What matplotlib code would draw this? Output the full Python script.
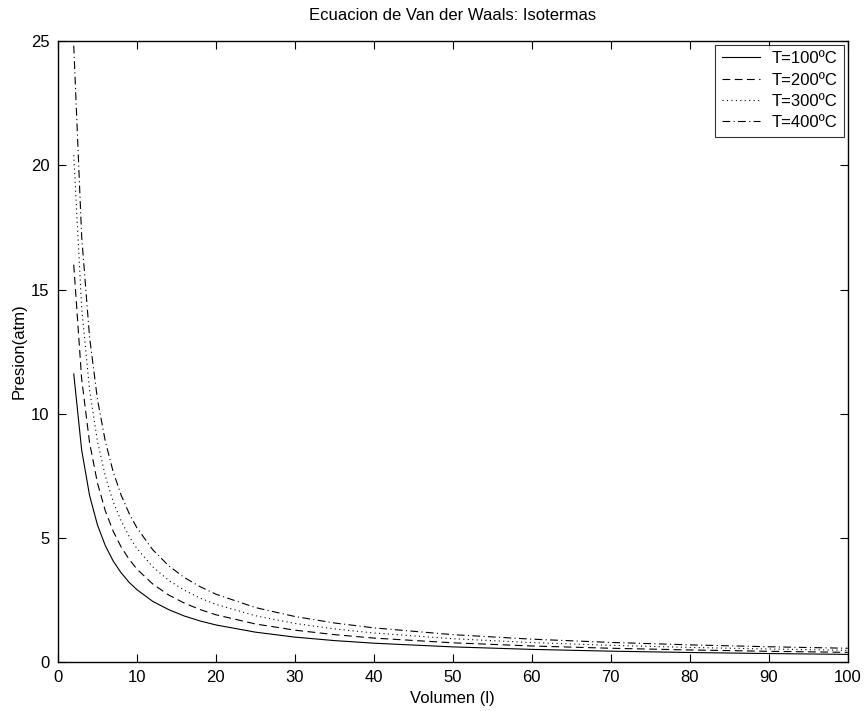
import matplotlib
matplotlib.use("Agg")
import matplotlib.pyplot as plt

plt.rcParams['font.family'] = ['Liberation Sans', 'DejaVu Sans']

volumen = [2, 3, 4, 5, 6, 7, 8, 9, 10, 12, 14, 16, 18, 20, 25, 30, 35, 40,
           50, 60, 70, 80, 90, 100]
p_100 = [11.60, 8.54, 6.71, 5.52, 4.68, 4.06, 3.59, 3.21, 2.91, 2.44, 2.11,
         1.85, 1.65, 1.49, 1.20, 1.00, 0.86, 0.755, 0.606, 0.506, 0.434,
         0.380, 0.338, 0.304]
p_200 = [16.00, 11.40, 8.84, 7.21, 6.08, 5.26, 4.63, 4.14, 3.74, 3.14, 2.70,
         2.37, 2.11, 1.90, 1.53, 1.28, 1.10, 0.961, 0.770, 0.643, 0.551,
         0.483, 0.429, 0.386]
p_300 = [20.41, 14.27, 10.96, 8.89, 7.48, 6.45, 5.68, 5.06, 4.57, 3.83, 3.29,
         2.89, 2.57, 2.32, 1.86, 1.55, 1.33, 1.167, 0.935, 0.780, 0.669,
         0.585, 0.521, 0.469]
p_400 = [24.82, 17.14, 13.09, 10.58, 8.88, 7.65, 6.72, 5.99, 5.40, 4.52, 3.88,
         3.40, 3.03, 2.73, 2.19, 1.83, 1.57, 1.372, 1.099, 0.917, 0.786,
         0.688, 0.612, 0.551]
labels = ['T=100ºC', 'T=200ºC', 'T=300ºC', 'T=400ºC']
x_ticks = [0, 10, 20, 30, 40, 50, 60, 70, 80, 90, 100]
y_ticks = [0, 5, 10, 15, 20, 25]

fig = plt.figure(figsize=(8.65, 7.11), dpi=100)
ax = fig.add_axes([0.067, 0.069, 0.913, 0.873])

lw = 0.8
ax.plot(volumen, p_100, color='black', linestyle='-', linewidth=lw, label=labels[0])
ax.plot(volumen, p_200, color='black', linestyle=(0, (7, 4)), linewidth=lw, label=labels[1])
ax.plot(volumen, p_300, color='black', linestyle=(0, (1, 3)), linewidth=lw, label=labels[2])
ax.plot(volumen, p_400, color='black', linestyle=(0, (7, 3, 1, 3)), linewidth=lw, label=labels[3])

ax.set_xlim(0, 100)
ax.set_ylim(0, 25)
ax.set_xticks(x_ticks)
ax.set_yticks(y_ticks)
ax.tick_params(direction='in', top=True, right=True, length=6, width=0.8,
               labelsize=12, pad=6)
for s in ax.spines.values():
    s.set_linewidth(1.0)

ax.set_xlabel('Volumen (l)', fontsize=12, labelpad=4)
ax.set_ylabel('Presion(atm)', fontsize=12, labelpad=3)
ax.set_title('Ecuacion de Van der Waals: Isotermas', fontsize=12, pad=15)

leg = ax.legend(loc='upper right', fontsize=12, frameon=True, fancybox=False,
                edgecolor='black', handlelength=2.3, handletextpad=0.7,
                borderpad=0.4, labelspacing=0.38, borderaxespad=0.2)
leg.get_frame().set_linewidth(0.8)

fig.savefig('out.png', dpi=100)
